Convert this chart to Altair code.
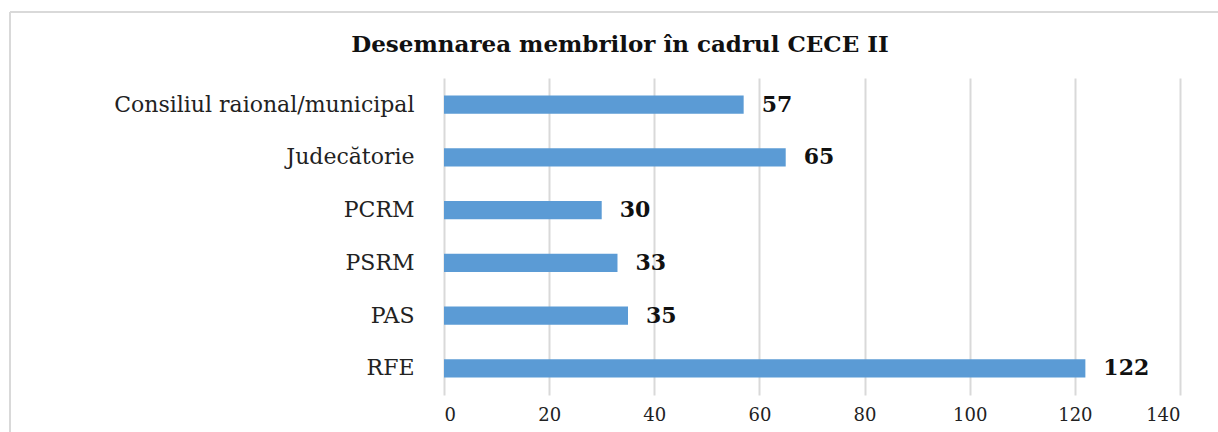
import altair as alt
import pandas as pd

categories = ["Consiliul raional/municipal", "Judecătorie", "PCRM", "PSRM", "PAS", "RFE"]
values = [57, 65, 30, 33, 35, 122]
x_ticks = [0, 20, 40, 60, 80, 100, 120, 140]
title_text = "Desemnarea membrilor în cadrul CECE II"

df = pd.DataFrame({"cat": categories, "val": values})

FONT = "DejaVu Serif"
W, H = 736, 317

y_enc = alt.Y("cat:N", sort=categories, title=None,
              scale=alt.Scale(paddingInner=0.65, paddingOuter=0.33),
              axis=alt.Axis(labelFont=FONT, labelFontSize=22, labelColor="#222222",
                            labelPadding=30, ticks=False, domain=False, labelLimit=500))
x_enc = alt.X("val:Q", title=None,
              scale=alt.Scale(domain=[0, 140], nice=False),
              axis=alt.Axis(values=x_ticks, labelFont=FONT, labelFontSize=18,
                            labelColor="#222222", labelPadding=11, ticks=False,
                            domain=False, grid=True, gridColor="#D9D9D9", gridWidth=2))

bars = alt.Chart(df).mark_bar(color="#5B9BD5").encode(x=x_enc, y=y_enc)
labels = alt.Chart(df).mark_text(align="left", baseline="middle", dx=18,
                                 font=FONT, fontSize=22, fontWeight="bold",
                                 color="#111111").encode(
    x="val:Q", y=alt.Y("cat:N", sort=categories), text="val:Q")

frame_top = alt.Chart(df).mark_rule(color="#D9D9D9", strokeWidth=2).encode(
    x=alt.value(-434), x2=alt.value(800), y=alt.value(-66))
frame_left = alt.Chart(df).mark_rule(color="#D9D9D9", strokeWidth=2).encode(
    x=alt.value(-434), y=alt.value(-66), y2=alt.value(400))

title = alt.Chart(pd.DataFrame({"t": [title_text]})).mark_text(
    font=FONT, fontSize=23, fontWeight="bold", color="#111111",
    align="center", baseline="middle").encode(
    x=alt.value(176), y=alt.value(-33), text="t:N")

chart = alt.layer(frame_top, frame_left, bars, labels, title).properties(
    width=W, height=H,
    padding={"left": 444, "top": 78, "right": 38, "bottom": 37},
    autosize=alt.AutoSizeParams(type="none"),
).configure(background="white", view=alt.ViewConfig(stroke=None))

chart.save("out.html", embed_options={"renderer": "svg", "actions": False})
